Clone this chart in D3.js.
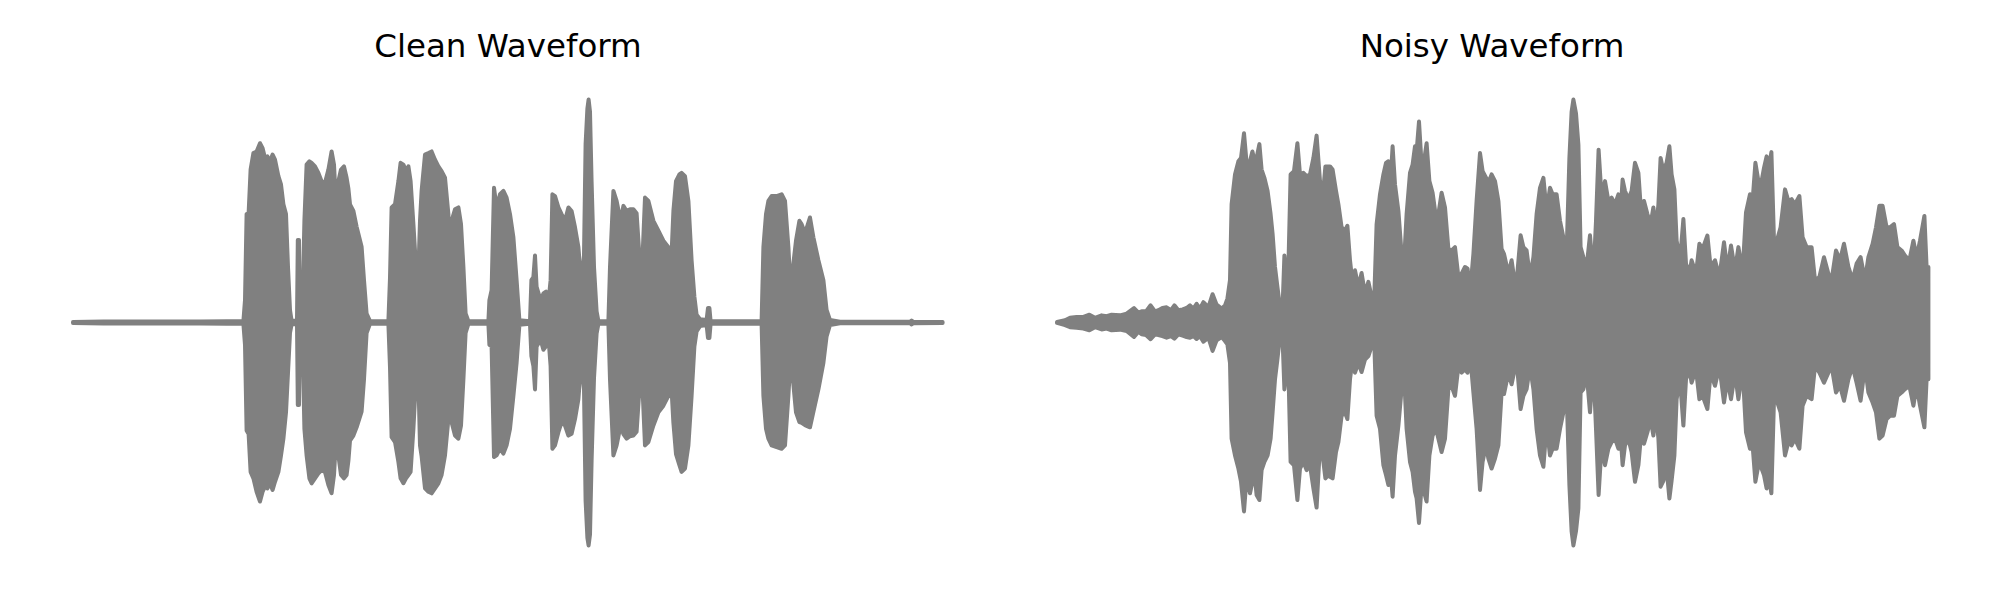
<!DOCTYPE html>
<html><head><meta charset="utf-8">
<script src="https://cdn.jsdelivr.net/npm/d3@7"></script>
<style>html,body{margin:0;padding:0;background:#fff;} svg{display:block;}</style>
</head><body>
<svg id="chart" width="2000" height="600"></svg>
<script>
// Titles of the two panels
const panelTitles = ["Clean Waveform", "Noisy Waveform"];

// Clean waveform envelope: time (ms), upper and lower amplitude
const cleanTime = [0,152,435,635,768,852,860,868,878,888,902,918,935,948,960,972,985,998,1010,1027,1040,1052,1065,1075,1085,1093,1120,1124,1130,1134,1147,1157,1168,1182,1193,1210,1227,1243,1260,1277,1293,1305,1315,1327,1340,1355,1368,1377,1385,1402,1418,1443,1455,1468,1485,1577,1585,1593,1610,1627,1638,1652,1665,1677,1688,1702,1715,1723,1735,1743,1760,1777,1793,1810,1827,1843,1860,1877,1885,1893,1910,1927,1940,1952,1963,1977,2077,2082,2093,2105,2118,2135,2152,2168,2185,2202,2218,2232,2285,2292,2302,2310,2318,2338,2352,2365,2378,2388,2397,2410,2427,2443,2460,2477,2493,2510,2527,2543,2555,2563,2572,2578,2585,2593,2605,2618,2627,2677,2685,2702,2718,2738,2752,2768,2785,2802,2818,2832,2843,2860,2877,2902,2927,2952,2977,2990,3002,3015,3032,3043,3060,3077,3093,3107,3118,3135,3168,3175,3182,3188,3443,3452,3465,3477,3493,3518,3543,3560,3577,3588,3598,3615,3632,3643,3660,3685,3702,3727,3752,3768,3785,3835,4185,4193,4202,4348];
const cleanUpper = [0.002,0.004,0.004,0.005,0.006,0.006,0.1,0.486,0.49,0.686,0.76,0.767,0.804,0.782,0.738,0.745,0.723,0.753,0.73,0.656,0.619,0.53,0.486,0.249,0.056,0.008,0.008,0.37,0.37,0.01,0.05,0.456,0.708,0.723,0.716,0.70,0.671,0.634,0.627,0.686,0.767,0.708,0.53,0.634,0.686,0.70,0.649,0.6,0.53,0.50,0.43,0.34,0.19,0.04,0.006,0.006,0.2,0.516,0.53,0.634,0.716,0.708,0.679,0.70,0.634,0.441,0.249,0.116,0.456,0.59,0.753,0.76,0.767,0.73,0.70,0.679,0.649,0.486,0.249,0.456,0.508,0.516,0.441,0.249,0.041,0.006,0.006,0.1,0.145,0.604,0.516,0.575,0.59,0.56,0.486,0.382,0.19,0.01,0.006,0.19,0.204,0.30,0.16,0.10,0.13,0.138,0.10,0.19,0.575,0.567,0.516,0.486,0.456,0.516,0.50,0.427,0.338,0.16,0.3,0.80,0.96,1.0,0.945,0.63,0.25,0.05,0.006,0.006,0.249,0.59,0.545,0.456,0.523,0.5,0.508,0.508,0.49,0.3,0.19,0.56,0.545,0.456,0.412,0.367,0.338,0.249,0.50,0.634,0.664,0.671,0.656,0.545,0.279,0.116,0.035,0.015,0.011,0.065,0.065,0.006,0.006,0.338,0.486,0.545,0.567,0.567,0.575,0.545,0.338,0.145,0.234,0.367,0.456,0.441,0.40,0.471,0.382,0.279,0.19,0.056,0.011,0.003,0.003,0.009,0.003,0.002];
const cleanLower = [-0.002,-0.004,-0.004,-0.005,-0.006,-0.006,-0.1,-0.484,-0.50,-0.67,-0.699,-0.759,-0.803,-0.759,-0.736,-0.744,-0.721,-0.751,-0.714,-0.67,-0.596,-0.521,-0.403,-0.225,-0.047,-0.008,-0.008,-0.37,-0.37,-0.01,-0.055,-0.477,-0.596,-0.699,-0.721,-0.699,-0.677,-0.662,-0.67,-0.729,-0.766,-0.684,-0.521,-0.596,-0.684,-0.699,-0.684,-0.62,-0.53,-0.507,-0.47,-0.40,-0.255,-0.047,-0.006,-0.006,-0.2,-0.514,-0.536,-0.625,-0.699,-0.721,-0.699,-0.684,-0.67,-0.477,-0.255,-0.107,-0.551,-0.60,-0.744,-0.759,-0.766,-0.744,-0.721,-0.684,-0.596,-0.433,-0.255,-0.447,-0.507,-0.521,-0.462,-0.255,-0.047,-0.006,-0.006,-0.1,-0.107,-0.603,-0.596,-0.566,-0.588,-0.551,-0.477,-0.329,-0.181,-0.01,-0.006,-0.151,-0.196,-0.30,-0.107,-0.077,-0.122,-0.107,-0.077,-0.196,-0.566,-0.551,-0.492,-0.447,-0.462,-0.507,-0.499,-0.433,-0.344,-0.151,-0.3,-0.80,-0.966,-1.0,-0.951,-0.62,-0.25,-0.05,-0.006,-0.006,-0.255,-0.596,-0.551,-0.462,-0.5,-0.521,-0.51,-0.507,-0.49,-0.3,-0.2,-0.551,-0.536,-0.462,-0.403,-0.373,-0.329,-0.255,-0.45,-0.59,-0.64,-0.67,-0.655,-0.551,-0.329,-0.107,-0.04,-0.016,-0.011,-0.07,-0.07,-0.006,-0.006,-0.329,-0.477,-0.521,-0.551,-0.559,-0.566,-0.551,-0.329,-0.151,-0.24,-0.403,-0.447,-0.45,-0.46,-0.47,-0.40,-0.30,-0.181,-0.062,-0.011,-0.003,-0.003,-0.009,-0.003,-0.002];

// Noisy waveform envelope: time (ms), upper and lower amplitude
const noisyTime = [0,40,65,98,132,162,190,223,248,273,315,348,385,407,423,445,468,490,507,527,548,570,587,607,628,648,665,682,698,715,732,757,778,798,823,840,852,865,873,890,907,920,935,948,965,977,990,998,1012,1023,1037,1053,1068,1078,1090,1102,1115,1128,1137,1148,1157,1168,1185,1202,1215,1232,1248,1265,1282,1298,1315,1328,1342,1357,1365,1378,1395,1407,1423,1440,1452,1465,1478,1490,1507,1523,1540,1557,1573,1587,1598,1615,1632,1645,1657,1668,1678,1690,1707,1723,1735,1748,1765,1778,1790,1798,1810,1823,1835,1848,1862,1878,1895,1907,1923,1940,1957,1973,1990,2007,2023,2040,2053,2065,2082,2098,2115,2128,2145,2157,2173,2190,2207,2223,2235,2257,2273,2285,2298,2318,2332,2348,2365,2382,2398,2415,2432,2448,2465,2478,2498,2515,2532,2548,2562,2573,2582,2595,2607,2618,2632,2648,2665,2682,2695,2708,2723,2740,2757,2773,2790,2807,2815,2828,2840,2857,2873,2890,2907,2920,2935,2952,2968,2982,2995,3007,3018,3032,3048,3062,3073,3087,3098,3115,3132,3145,3162,3173,3195,3212,3228,3252,3268,3290,3312,3335,3352,3370,3390,3407,3428,3445,3465,3478,3492,3507,3523,3535,3548,3560,3572,3585,3602,3618,3640,3657,3673,3690,3712,3728,3748,3773,3790,3812,3835,3857,3873,3895,3915,3935,3957,3978,3998,4018,4040,4057,4078,4095,4112,4128,4148,4165,4185,4202,4223,4240,4262,4282,4298,4315,4337,4348,4357];
const noisyUpper = [0.002,0.01,0.021,0.025,0.025,0.035,0.021,0.032,0.028,0.035,0.032,0.04,0.065,0.044,0.05,0.05,0.077,0.05,0.055,0.065,0.068,0.055,0.077,0.055,0.059,0.065,0.077,0.062,0.084,0.062,0.091,0.069,0.127,0.08,0.062,0.077,0.107,0.19,0.53,0.664,0.723,0.738,0.849,0.716,0.723,0.767,0.716,0.738,0.80,0.686,0.649,0.59,0.486,0.397,0.249,0.16,0.071,0.071,0.30,0.19,0.249,0.664,0.679,0.804,0.664,0.671,0.656,0.664,0.738,0.838,0.634,0.56,0.70,0.70,0.70,0.686,0.59,0.53,0.427,0.412,0.434,0.279,0.175,0.234,0.16,0.222,0.13,0.182,0.116,0.13,0.441,0.575,0.664,0.716,0.723,0.634,0.79,0.619,0.50,0.308,0.264,0.486,0.671,0.708,0.79,0.767,0.901,0.708,0.723,0.804,0.634,0.582,0.471,0.486,0.582,0.516,0.33,0.323,0.338,0.204,0.219,0.249,0.241,0.13,0.308,0.545,0.76,0.679,0.649,0.627,0.664,0.634,0.545,0.33,0.308,0.219,0.279,0.204,0.182,0.391,0.338,0.323,0.204,0.293,0.486,0.604,0.649,0.501,0.604,0.575,0.575,0.456,0.382,0.308,0.738,0.945,1.0,0.938,0.797,0.338,0.293,0.249,0.391,0.204,0.456,0.775,0.56,0.634,0.545,0.56,0.53,0.575,0.456,0.641,0.59,0.553,0.59,0.716,0.671,0.501,0.545,0.486,0.441,0.516,0.412,0.53,0.738,0.679,0.716,0.79,0.664,0.597,0.367,0.279,0.464,0.264,0.219,0.279,0.219,0.353,0.33,0.39,0.249,0.279,0.204,0.36,0.234,0.345,0.234,0.338,0.227,0.494,0.575,0.545,0.716,0.634,0.634,0.693,0.745,0.70,0.764,0.367,0.375,0.427,0.597,0.545,0.553,0.53,0.567,0.382,0.338,0.338,0.19,0.204,0.293,0.219,0.19,0.323,0.279,0.353,0.249,0.19,0.264,0.293,0.19,0.293,0.353,0.427,0.523,0.523,0.427,0.427,0.441,0.338,0.323,0.30,0.279,0.367,0.293,0.367,0.478,0.249,0.249];
const noisyLower = [-0.002,-0.012,-0.021,-0.024,-0.027,-0.035,-0.021,-0.031,-0.027,-0.035,-0.032,-0.038,-0.065,-0.041,-0.053,-0.056,-0.075,-0.053,-0.056,-0.061,-0.068,-0.061,-0.072,-0.053,-0.059,-0.065,-0.068,-0.061,-0.074,-0.061,-0.086,-0.068,-0.127,-0.08,-0.065,-0.083,-0.098,-0.181,-0.521,-0.596,-0.655,-0.714,-0.847,-0.692,-0.766,-0.714,-0.699,-0.774,-0.796,-0.662,-0.625,-0.596,-0.521,-0.403,-0.255,-0.166,-0.062,-0.077,-0.30,-0.21,-0.21,-0.625,-0.64,-0.796,-0.655,-0.625,-0.662,-0.64,-0.744,-0.83,-0.551,-0.596,-0.699,-0.684,-0.692,-0.699,-0.581,-0.536,-0.418,-0.403,-0.433,-0.255,-0.166,-0.225,-0.181,-0.222,-0.166,-0.151,-0.107,-0.107,-0.418,-0.477,-0.64,-0.684,-0.729,-0.67,-0.781,-0.596,-0.462,-0.298,-0.225,-0.477,-0.625,-0.67,-0.759,-0.788,-0.899,-0.729,-0.759,-0.803,-0.596,-0.507,-0.477,-0.521,-0.581,-0.521,-0.299,-0.285,-0.329,-0.196,-0.225,-0.21,-0.225,-0.136,-0.314,-0.477,-0.751,-0.625,-0.551,-0.61,-0.655,-0.61,-0.551,-0.314,-0.321,-0.225,-0.277,-0.225,-0.166,-0.388,-0.329,-0.299,-0.196,-0.299,-0.477,-0.596,-0.647,-0.462,-0.596,-0.566,-0.566,-0.477,-0.403,-0.314,-0.729,-0.936,-1.0,-0.936,-0.833,-0.314,-0.299,-0.225,-0.403,-0.196,-0.477,-0.773,-0.551,-0.64,-0.566,-0.536,-0.521,-0.566,-0.462,-0.64,-0.551,-0.521,-0.581,-0.714,-0.64,-0.507,-0.544,-0.492,-0.433,-0.507,-0.403,-0.521,-0.736,-0.71,-0.655,-0.789,-0.71,-0.596,-0.344,-0.255,-0.462,-0.255,-0.21,-0.27,-0.21,-0.344,-0.329,-0.388,-0.225,-0.284,-0.196,-0.359,-0.255,-0.344,-0.225,-0.344,-0.21,-0.492,-0.566,-0.551,-0.714,-0.64,-0.655,-0.684,-0.744,-0.699,-0.766,-0.344,-0.359,-0.403,-0.596,-0.536,-0.551,-0.521,-0.566,-0.373,-0.329,-0.344,-0.196,-0.225,-0.27,-0.225,-0.196,-0.314,-0.284,-0.351,-0.255,-0.196,-0.27,-0.351,-0.196,-0.314,-0.359,-0.403,-0.521,-0.507,-0.433,-0.418,-0.418,-0.329,-0.314,-0.299,-0.284,-0.373,-0.284,-0.373,-0.47,-0.255,-0.255];

const svg = d3.select("#chart");
const color = "#808080";

const panels = [
  {title: panelTitles[0], time: cleanTime, up: cleanUpper, lo: cleanLower, range: [73, 943]},
  {title: panelTitles[1], time: noisyTime, up: noisyUpper, lo: noisyLower, range: [1057, 1927]}
];

const y = d3.scaleLinear().domain([-1, 1]).range([545.5, 99.5]);

panels.forEach(p => {
  const x = d3.scaleLinear().domain([0, 4350]).range(p.range);
  const data = p.time.map((t, i) => ({t, hi: p.up[i], lo: p.lo[i]}));
  const area = d3.area()
    .x(d => x(d.t))
    .y0(d => y(d.lo))
    .y1(d => y(d.hi));
  const g = svg.append("g");
  g.append("path")
    .datum(data)
    .attr("d", area)
    .attr("fill", color)
    .attr("stroke", color)
    .attr("stroke-width", 4)
    .attr("stroke-linejoin", "round")
    .attr("stroke-linecap", "round");
  g.append("text")
    .attr("x", (p.range[0] + p.range[1]) / 2)
    .attr("y", 57)
    .attr("text-anchor", "middle")
    .attr("font-family", "DejaVu Sans, sans-serif")
    .attr("font-size", 32.5)
    .attr("fill", "#000")
    .text(p.title);
});
</script>
</body></html>
